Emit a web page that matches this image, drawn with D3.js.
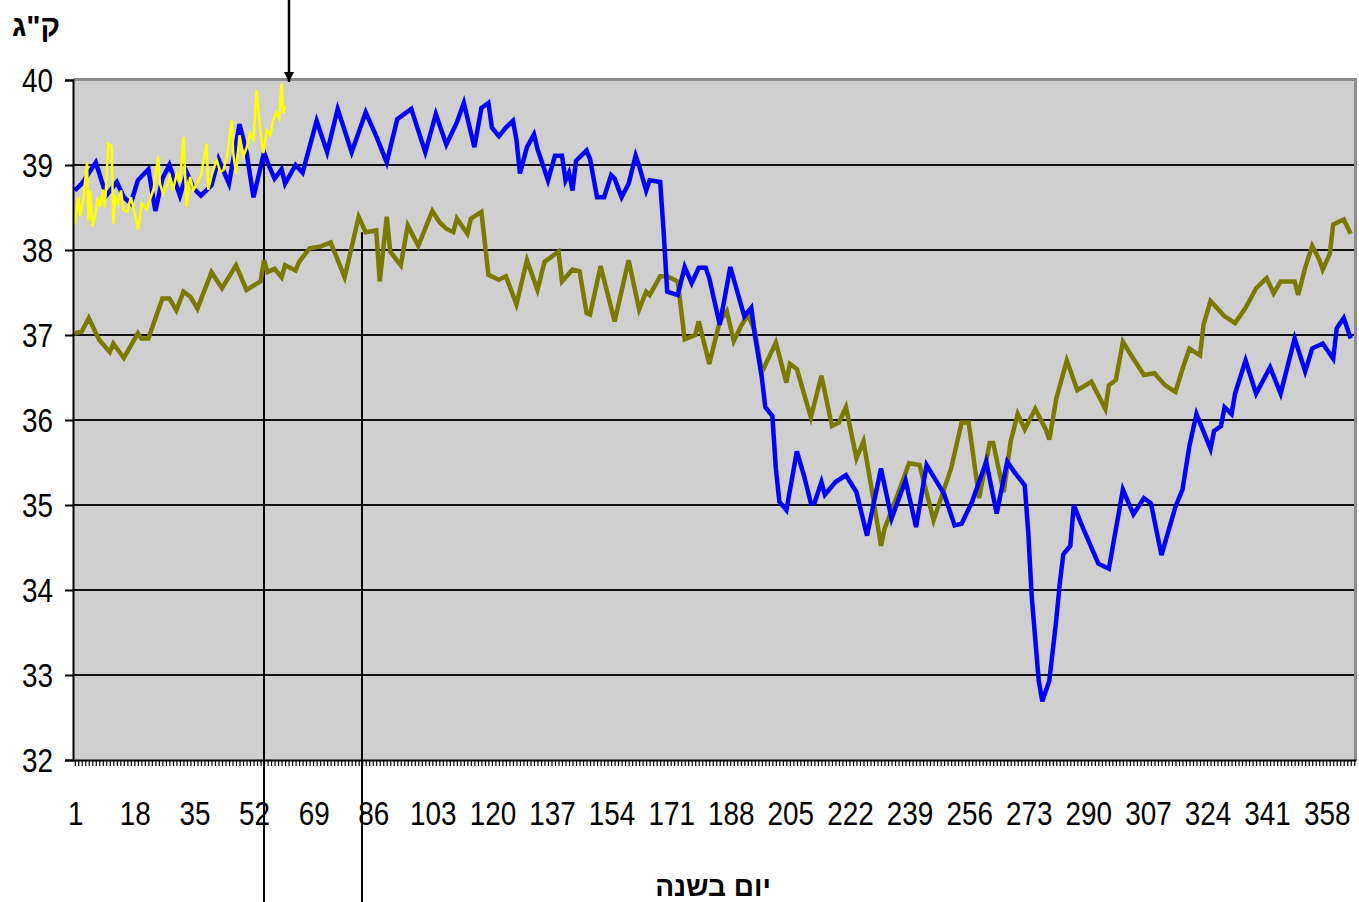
<!DOCTYPE html>
<html>
<head>
<meta charset="utf-8">
<script src="https://cdn.jsdelivr.net/npm/d3@7"></script>
<style>
  body { margin: 0; background: #fff; }
  text { font-family: "Liberation Sans", Arial, sans-serif; fill: #000; }
</style>
</head>
<body>
<script>
// day of year, kg
var blueSeries = [
  [1,38.70],[3,38.78],[7,39.03],[10,38.64],[13,38.80],[15,38.62],[17,38.55],[19,38.82],[22,38.95],[24,38.46],
  [26,38.84],[28,39.00],[31,38.64],[33,38.91],[35,38.72],[37,38.64],[40,38.76],[42,39.07],[45,38.78],[48,39.48],
  [50,39.15],[52,38.62],[55,39.15],[56,39.03],[58,38.84],[60,38.95],[61,38.78],[64,39.00],[66,38.91],[70,39.52],
  [73,39.15],[76,39.66],[80,39.15],[84,39.62],[87,39.34],[90,39.03],[93,39.54],[97,39.66],[101,39.15],[104,39.60],
  [107,39.24],[110,39.50],[112,39.73],[115,39.21],[117,39.67],[119,39.73],[120,39.44],[122,39.34],[124,39.44],[126,39.52],
  [127,39.30],[128,38.90],[130,39.21],[132,39.36],[133,39.19],[136,38.82],[138,39.11],[140,39.11],[141,38.82],[142,38.91],
  [143,38.70],[144,39.05],[147,39.17],[148,39.07],[150,38.62],[152,38.62],[154,38.88],[155,38.84],[157,38.62],[159,38.78],
  [161,39.11],[162,38.99],[164,38.70],[165,38.82],[168,38.80],[169,38.21],[170,37.51],[173,37.47],[175,37.80],[177,37.61],
  [179,37.79],[181,37.79],[182,37.67],[185,37.12],[188,37.80],[192,37.22],[194,37.32],[195,37.00],[197,36.50],[198,36.15],
  [200,36.05],[201,35.43],[202,35.04],[204,34.94],[207,35.63],[209,35.35],[211,35.02],[212,35.02],[214,35.27],[215,35.12],
  [218,35.27],[221,35.35],[224,35.15],[227,34.64],[231,35.43],[234,34.84],[238,35.29],[241,34.74],[244,35.47],[249,35.13],
  [252,34.76],[254,34.78],[257,35.04],[261,35.51],[264,34.90],[267,35.51],[269,35.39],[272,35.23],[273,34.68],[274,33.92],
  [276,32.93],[277,32.69],[279,32.93],[281,33.65],[282,34.08],[283,34.42],[285,34.52],[286,35.00],[288,34.79],[293,34.31],
  [296,34.25],[300,35.18],[303,34.89],[306,35.08],[308,35.02],[311,34.41],[315,34.98],[317,35.18],[319,35.70],[321,36.07],
  [325,35.66],[326,35.87],[328,35.93],[329,36.15],[331,36.07],[332,36.31],[335,36.70],[338,36.31],[342,36.62],[345,36.31],
  [349,36.96],[352,36.57],[354,36.84],[357,36.90],[360,36.72],[361,37.08],[363,37.20],[365,36.96]
];

var oliveSeries = [
  [1,37.02],[3,37.04],[5,37.20],[8,36.94],[11,36.80],[12,36.90],[15,36.73],[19,37.02],[20,36.96],[22,36.96],
  [26,37.43],[28,37.43],[30,37.29],[32,37.51],[34,37.45],[36,37.31],[40,37.74],[43,37.55],[47,37.82],[50,37.53],
  [54,37.63],[55,37.88],[56,37.74],[58,37.78],[60,37.68],[61,37.82],[64,37.76],[65,37.86],[68,38.02],[71,38.04],
  [74,38.09],[78,37.68],[82,38.39],[84,38.21],[87,38.23],[88,37.63],[90,38.39],[91,37.98],[94,37.82],[96,38.29],
  [99,38.05],[103,38.46],[105,38.33],[107,38.25],[109,38.21],[110,38.37],[113,38.19],[114,38.37],[117,38.45],[119,37.71],
  [122,37.65],[124,37.69],[127,37.36],[130,37.88],[133,37.53],[135,37.86],[139,37.98],[140,37.63],[143,37.77],[145,37.75],
  [147,37.26],[148,37.24],[151,37.81],[155,37.16],[159,37.88],[162,37.30],[164,37.51],[165,37.47],[168,37.69],[170,37.69],
  [173,37.63],[175,36.95],[178,37.00],[179,37.16],[182,36.66],[185,37.16],[187,37.28],[189,36.93],[191,37.10],[193,37.24],
  [195,37.05],[197,36.56],[201,36.91],[204,36.44],[205,36.66],[207,36.60],[211,36.03],[214,36.52],[217,35.93],[219,35.97],
  [221,36.15],[224,35.55],[226,35.75],[228,35.27],[231,34.52],[232,34.72],[236,35.15],[239,35.49],[242,35.47],[246,34.82],
  [249,35.19],[251,35.43],[254,35.97],[256,35.97],[259,35.08],[262,35.73],[263,35.73],[266,35.15],[268,35.75],[270,36.07],
  [272,35.89],[275,36.13],[278,35.89],[279,35.77],[281,36.25],[284,36.70],[287,36.35],[291,36.45],[295,36.13],[296,36.41],
  [298,36.47],[300,36.92],[303,36.72],[306,36.53],[309,36.55],[312,36.41],[315,36.33],[317,36.60],[319,36.84],[322,36.76],
  [323,37.12],[325,37.40],[329,37.22],[332,37.14],[335,37.32],[338,37.55],[341,37.67],[343,37.49],[345,37.63],[349,37.63],
  [350,37.47],[352,37.79],[354,38.05],[356,37.89],[357,37.77],[359,37.95],[360,38.30],[363,38.36],[365,38.19]
];

var yellowSeries = [
  [1,38.30],[2,38.62],[2.6,38.40],[3.4,38.59],[4.5,39.03],[4.9,38.35],[5.4,38.70],[6,38.28],[6.8,38.40],[7.5,38.62],
  [8.2,38.51],[9.1,38.71],[9.6,38.50],[10.6,39.25],[11.5,39.22],[12,38.31],[12.6,38.62],[13.4,38.55],[14.2,38.70],[14.9,38.47],
  [16,38.45],[17,38.62],[17.7,38.51],[19.1,38.24],[20.1,38.55],[21.5,38.48],[22.5,38.60],[23.5,38.72],[24.8,39.10],[25.3,38.78],
  [26.2,38.66],[27.2,38.75],[28.2,38.86],[29,38.70],[30.1,38.90],[31,38.80],[32,39.33],[32.9,38.51],[33.9,38.86],[34.8,38.70],
  [35.8,38.78],[37,38.88],[38.6,39.25],[39.1,38.71],[40.2,38.90],[41.5,39.06],[42.5,38.92],[43.4,38.94],[44.5,39.12],[45.8,39.53],
  [46.2,39.14],[47,38.90],[48,39.35],[49.1,39.10],[50,39.20],[51,39.37],[52,39.30],[52.9,39.88],[53.9,39.41],[54.8,39.14],
  [55.8,39.41],[56.8,39.35],[57.6,39.53],[58.5,39.62],[59.3,39.55],[60,39.96],[60.5,39.61],[61,39.70]
];

var yTicks = [32, 33, 34, 35, 36, 37, 38, 39, 40];
var xLabels = [1, 18, 35, 52, 69, 86, 103, 120, 137, 154, 171, 188, 205, 222, 239, 256, 273, 290, 307, 324, 341, 358];
var markDays = [55, 83];   // drop lines
var arrowDay = 62;
var yTitle = "ק\"ג";
var xTitle = "יום בשנה";

var W = 1359, H = 902;
var margin = {left: 73, right: 3, top: 80, bottom: 142};
var x0 = margin.left, x1 = W - margin.right, y0 = H - margin.bottom, y1 = margin.top;

var svg = d3.select("body").append("svg").attr("width", W).attr("height", H);

var x = d3.scaleLinear().domain([0.5, 366.5]).range([x0, x1]);
var y = d3.scaleLinear().domain([32, 40]).range([y0, y1]);

// plot background
svg.append("rect").attr("x", x0).attr("y", y1).attr("width", x1 - x0).attr("height", y0 - y1)
   .attr("fill", "#cfcfcf");

// gridlines
svg.append("g").selectAll("line").data(yTicks.filter(function(d){ return d > 32 && d < 40; }))
   .enter().append("line")
   .attr("x1", x0).attr("x2", x1)
   .attr("y1", function(d){ return y(d); }).attr("y2", function(d){ return y(d); })
   .attr("stroke", "#111").attr("stroke-width", 2);

// top/right frame
svg.append("path")
   .attr("d", "M" + x0 + "," + (y1 - 0.5) + "H" + (x1 - 0.5) + "V" + y0)
   .attr("fill", "none").attr("stroke", "#8c8c8c").attr("stroke-width", 3);

var line = d3.line().x(function(d){ return x(d[0]); }).y(function(d){ return y(d[1]); });

function valueAt(series, day) {
  var i = d3.bisector(function(d){ return d[0]; }).left(series, day);
  return series[Math.min(i, series.length - 1)][1];
}

// drop lines
svg.append("g").selectAll("line").data(markDays).enter().append("line")
   .attr("x1", function(d){ return Math.round(x(d)); }).attr("x2", function(d){ return Math.round(x(d)); })
   .attr("y1", function(d, i){ return y(valueAt(i === 0 ? blueSeries : oliveSeries, d)); })
   .attr("y2", H)
   .attr("stroke", "#000").attr("stroke-width", 2);

svg.append("path").datum(oliveSeries).attr("d", line)
   .attr("fill", "none").attr("stroke", "#7a7a00").attr("stroke-width", 4.5).attr("stroke-linejoin", "miter");
svg.append("path").datum(blueSeries).attr("d", line)
   .attr("fill", "none").attr("stroke", "#0000ff").attr("stroke-width", 4.5).attr("stroke-linejoin", "miter");
svg.append("path").datum(yellowSeries).attr("d", line)
   .attr("fill", "none").attr("stroke", "#ffff00").attr("stroke-width", 2.5);

// y axis
var yAxis = svg.append("g").attr("transform", "translate(" + x0 + ",0)")
   .call(d3.axisLeft(y).tickValues(yTicks).tickSize(8).tickFormat(""));
yAxis.select(".domain").attr("stroke", "#000").attr("stroke-width", 2);
yAxis.selectAll(".tick line").attr("stroke", "#000").attr("stroke-width", 2);
svg.append("g").selectAll("text").data(yTicks).enter().append("text")
   .attr("transform", function(d){ return "translate(53," + (y(d) + 12) + ") scale(0.82,1)"; })
   .attr("text-anchor", "end").attr("font-size", 34)
   .text(function(d){ return d; });

// x axis, one tick per day
var xAxis = svg.append("g").attr("transform", "translate(0," + y0 + ")")
   .call(d3.axisBottom(x).tickValues(d3.range(1, 367)).tickSize(6).tickSizeOuter(0).tickFormat(""));
xAxis.select(".domain").attr("stroke", "#000").attr("stroke-width", 2);
xAxis.selectAll(".tick line").attr("stroke", "#000").attr("stroke-width", 1.2);
svg.append("g").selectAll("text").data(xLabels).enter().append("text")
   .attr("transform", function(d){ return "translate(" + (x(d) + 1) + ",825) scale(0.82,1)"; })
   .attr("text-anchor", "middle").attr("font-size", 34)
   .text(function(d){ return d; });

// arrow
svg.append("defs").append("marker").attr("id", "ah")
   .attr("viewBox", "0 0 10 10").attr("refX", 10).attr("refY", 5)
   .attr("markerWidth", 4).attr("markerHeight", 4).attr("markerUnits", "strokeWidth").attr("orient", "auto")
   .append("path").attr("d", "M0,0L10,5L0,10Z").attr("fill", "#000");
svg.append("line")
   .attr("x1", Math.round(x(arrowDay))).attr("x2", Math.round(x(arrowDay)))
   .attr("y1", 0).attr("y2", y(40) + 2)
   .attr("stroke", "#000").attr("stroke-width", 2.5).attr("marker-end", "url(#ah)");

// titles
svg.append("text").attr("x", 36).attr("y", 36).attr("text-anchor", "middle")
   .attr("font-size", 30).attr("font-weight", "bold").text(yTitle);
svg.append("text").attr("x", 713).attr("y", 896).attr("text-anchor", "middle")
   .attr("font-size", 28).attr("font-weight", "bold").text(xTitle);
</script>
</body>
</html>
